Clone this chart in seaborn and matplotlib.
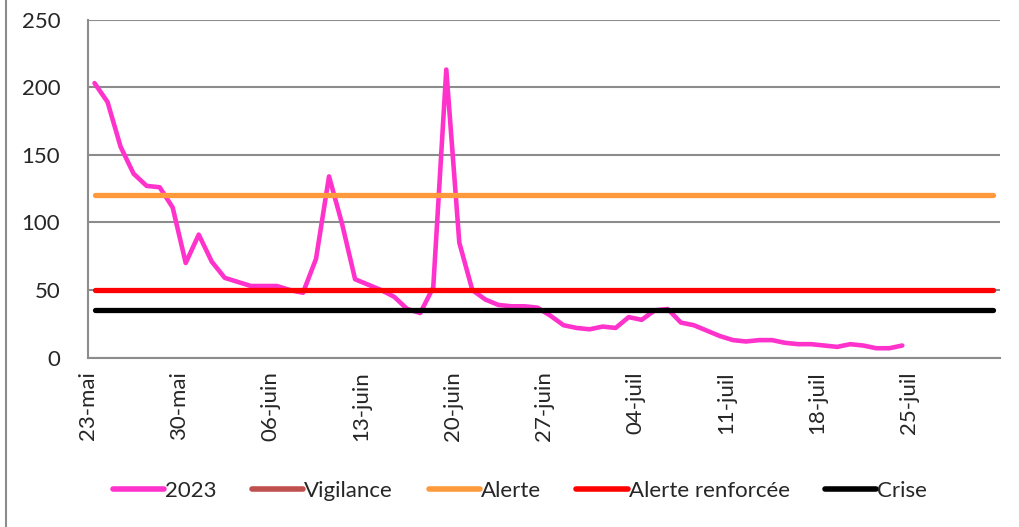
import numpy as np
import pandas as pd
import matplotlib
matplotlib.use("Agg")
import matplotlib.pyplot as plt
from matplotlib.lines import Line2D
import seaborn as sns

# Valeurs journalieres 2023 (a partir du 23 mai)
valeurs_2023 = [203, 189, 156, 136, 127, 126, 111, 70, 91, 71,
                59, 56, 53, 53, 53, 50, 48, 73, 134, 99,
                58, 54, 50, 45, 36, 33, 52, 213, 85, 50,
                43, 39, 38, 38, 37, 31, 24, 22, 21, 23,
                22, 30, 28, 35, 36, 26, 24, 20, 16, 13,
                12, 13, 13, 11, 10, 10, 9, 8, 10, 9,
                7, 7, 9]

# Seuils
seuil_alerte = 120
seuil_renforcee = 50
seuil_crise = 35

ticks_labels = ["23-mai", "30-mai", "06-juin", "13-juin", "20-juin",
                "27-juin", "04-juil", "11-juil", "18-juil", "25-juil", ""]

dates = pd.date_range("2023-05-23 12:00", periods=len(valeurs_2023), freq="D")
dates_seuils = pd.date_range("2023-05-23 12:00", "2023-07-31 12:00", freq="D")
df = pd.DataFrame({"date": dates, "val": valeurs_2023})
df_seuils = pd.DataFrame({"date": dates_seuils,
                          "alerte": seuil_alerte,
                          "renforcee": seuil_renforcee,
                          "crise": seuil_crise})

sns.set_style("white")
plt.rcParams["font.family"] = ["Lato", "DejaVu Sans"]

fig = plt.figure(figsize=(10.19, 5.27), dpi=100)
ax = fig.add_axes([88/1019, 1 - 357.7/527, 912/1019, 338.2/527])

grid_col = "#8c8c8c"
sns.lineplot(data=df, x="date", y="val", ax=ax, color="#ff33cc", lw=3.3,
             solid_capstyle="round", solid_joinstyle="round")
sns.lineplot(data=df_seuils, x="date", y="alerte", ax=ax, color="#ff9a3c", lw=3.8,
             solid_capstyle="round")
sns.lineplot(data=df_seuils, x="date", y="renforcee", ax=ax, color="#ff0000", lw=3.8,
             solid_capstyle="round")
sns.lineplot(data=df_seuils, x="date", y="crise", ax=ax, color="#000000", lw=3.8,
             solid_capstyle="round")

ax.set_ylim(0, 250)
ax.set_yticks(range(0, 251, 50))
ax.set_xlim(pd.Timestamp("2023-05-23"), pd.Timestamp("2023-08-01"))
tick_pos = pd.date_range("2023-05-23", "2023-08-01", freq="7D")
ax.set_xticks(tick_pos)
ax.set_xticklabels(ticks_labels, rotation=90, fontsize=16)
ax.tick_params(axis="y", labelsize=16, length=7, width=1.5, color=grid_col, pad=13, direction="out")
ax.tick_params(axis="x", length=7, width=1.5, color=grid_col, pad=3, direction="out")
ax.set_xlabel("")
ax.set_ylabel("")
ax.yaxis.grid(True, color=grid_col, lw=1.5)
ax.set_axisbelow(True)
for s in ["top", "right"]:
    ax.spines[s].set_visible(False)
for s in ["left", "bottom"]:
    ax.spines[s].set_color(grid_col)
    ax.spines[s].set_linewidth(1.5)

# legende
handles = [Line2D([], [], color="#ff33cc", lw=4),
           Line2D([], [], color="#c0504d", lw=4),
           Line2D([], [], color="#ff9a3c", lw=4),
           Line2D([], [], color="#ff0000", lw=4),
           Line2D([], [], color="#000000", lw=4)]
noms = ["2023", "Vigilance", "Alerte", "Alerte renforcée", "Crise"]
fig.legend(handles, noms, loc="center", bbox_to_anchor=(520/1019, 1 - 491/527),
           ncol=5, frameon=False, fontsize=16, handlelength=2.3, handletextpad=0.05,
           columnspacing=1.6)

# bordure gauche du graphique
fig.add_artist(Line2D([5.5/1019, 5.5/1019], [0, 1], color=grid_col, lw=1.5))

fig.savefig("out.png", dpi=100)
